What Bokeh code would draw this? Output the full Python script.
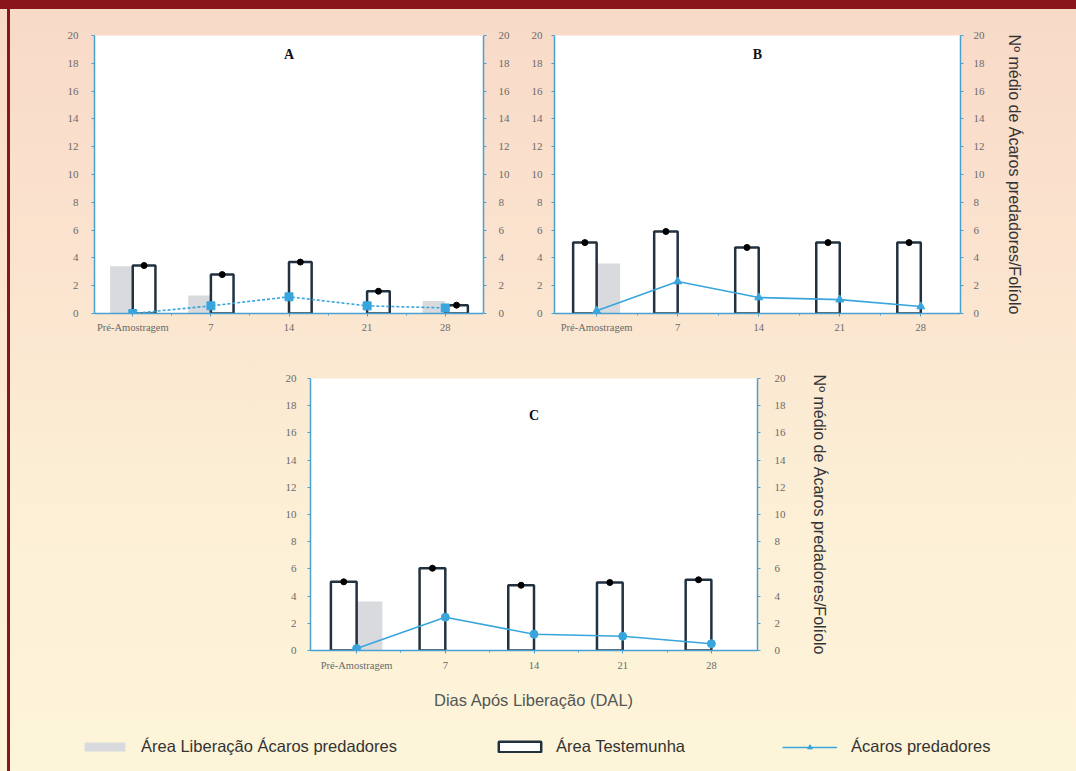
from bokeh.plotting import figure
from bokeh.models import (LinearAxis, Range1d, FixedTicker, Label, Legend,
                          LegendItem, Spacer)
from bokeh.layouts import column, row
from bokeh.embed import file_html
from bokeh.resources import INLINE

# ---------------- data ----------------
categories = ["Pré-Amostragem", "7", "14", "21", "28"]
y_ticks = [0, 2, 4, 6, 8, 10, 12, 14, 16, 18, 20]

a_liberacao = [3.4, 1.3, 0.0, 0.0, 0.9]
a_testemunha = [3.45, 2.8, 3.7, 1.6, 0.6]
a_predadores = [0.0, 0.55, 1.2, 0.55, 0.4]

b_liberacao = [3.6, 0.0, 0.0, 0.0, 0.0]
b_testemunha = [5.1, 5.9, 4.75, 5.1, 5.1]
b_predadores = [0.2, 2.3, 1.15, 1.0, 0.5]

c_liberacao = [3.6, 0.0, 0.0, 0.0, 0.0]
c_testemunha = [5.05, 6.05, 4.8, 5.0, 5.2]
c_predadores = [0.15, 2.45, 1.2, 1.05, 0.5]

label_lib = "Área Liberação Ácaros predadores"
label_test = "Área Testemunha"
label_pred = "Ácaros predadores"
x_title = "Dias Após Liberação (DAL)"
y2_title = "Nº médio de Ácaros predadores/Folíolo"

# ---------------- style ----------------
BLUE = "#38a6dd"
AXIS = "#4aa0cf"
DARK = "#22313f"
GRAY = "#d9dade"
TICK = "#6a6a6a"
SERIF = "Liberation Serif"
SANS = "Liberation Sans"
BAR_W = 0.29

idx = list(range(len(categories)))


def style_axis(ax, standoff, tick_out=3, size="11px"):
    ax.axis_line_color = AXIS
    ax.axis_line_width = 1.5
    ax.major_tick_line_color = AXIS
    ax.minor_tick_line_color = AXIS
    ax.major_tick_out = tick_out
    ax.major_tick_in = 0
    ax.minor_tick_out = 2
    ax.minor_tick_in = 0
    ax.major_label_standoff = standoff
    ax.major_label_text_font = SERIF
    ax.major_label_text_font_size = size
    ax.major_label_text_color = TICK


def panel(lib, test, pred, x_lo, x_hi, gray_left, letter, letter_y, marker,
          dash, width, height, borders, left_std, right_std, right_title,
          title_std=20, x_label=None):
    bl, br, bt, bb = borders
    p = figure(width=width, height=height,
               x_range=Range1d(x_lo, x_hi), y_range=Range1d(0, 20),
               output_backend="svg", toolbar_location=None,
               min_border_left=bl, min_border_right=br,
               min_border_top=bt, min_border_bottom=bb,
               background_fill_color="white", border_fill_color=None,
               outline_line_color=None)
    p.grid.visible = False

    sign = -1 if gray_left else 1
    gx = [i + sign * BAR_W / 2 for i in idx]
    tx = [i - sign * BAR_W / 2 for i in idx]
    p.vbar(x=gx, top=lib, width=BAR_W, fill_color=GRAY, line_color=None)
    p.vbar(x=tx, top=test, width=BAR_W, fill_color="white",
           line_color=DARK, line_width=2.5)
    p.scatter(x=tx, y=test, marker="circle", size=6, color="black")
    p.line(x=idx, y=pred, line_color=BLUE, line_width=1.6, line_dash=dash)
    p.scatter(x=idx, y=pred, marker=marker, size=8, color=BLUE)

    # x axis
    xa = p.xaxis[0]
    xa.ticker = FixedTicker(ticks=idx, minor_ticks=[i + 0.5 for i in idx[:-1]])
    xa.major_label_overrides = {i: c for i, c in zip(idx, categories)}
    style_axis(xa, 5, tick_out=3, size="10.5px")
    if x_label:
        xa.major_label_standoff = 6
        xa.axis_label = x_label
        xa.axis_label_text_font = SANS
        xa.axis_label_text_font_size = "16.5px"
        xa.axis_label_text_font_style = "normal"
        xa.axis_label_text_color = "#555"
        xa.axis_label_standoff = 17

    # left y axis
    ya = p.yaxis[0]
    ya.ticker = FixedTicker(ticks=y_ticks, minor_ticks=[])
    style_axis(ya, left_std)

    # right y axis
    ra = LinearAxis()
    ra.ticker = FixedTicker(ticks=y_ticks, minor_ticks=[])
    style_axis(ra, right_std)
    if right_title:
        ra.axis_label = right_title
        ra.axis_label_text_font = SANS
        ra.axis_label_text_font_size = "16px"
        ra.axis_label_text_font_style = "normal"
        ra.axis_label_text_color = "#333"
        ra.axis_label_standoff = title_std
    p.add_layout(ra, "right")

    p.add_layout(Label(x=(x_lo + x_hi) / 2, y=letter_y, text=letter,
                       text_font=SERIF, text_font_style="bold",
                       text_font_size="14px", text_color="#111",
                       text_align="center", text_baseline="middle"))
    return p


pA = panel(a_liberacao, a_testemunha, a_predadores, -0.49, 4.49, True, "A",
           18.6, "square", "3 2", 528, 345, (94, 45, 35, 32), 13, 12, None)
pB = panel(b_liberacao, b_testemunha, b_predadores, -0.52, 4.49, False, "B",
           18.6, "triangle", "solid", 548, 345, (25, 116, 35, 32), 9, 10,
           y2_title, title_std=18)
pC = panel(c_liberacao, c_testemunha, c_predadores, -0.52, 4.52, False, "C",
           17.3, "circle", "solid", 600, 373, (52, 101, 33, 68), 11, 14,
           y2_title, title_std=22, x_label=x_title)

# ---------------- legend strip ----------------
leg = figure(width=1076, height=53, x_range=Range1d(0, 1), y_range=Range1d(0, 1),
             output_backend="svg", toolbar_location=None, min_border=0,
             x_axis_type=None, y_axis_type=None, outline_line_color=None,
             background_fill_color=None, border_fill_color=None)
leg.grid.visible = False
# legend proxies (hidden renderers carrying panel C's data)
r_lib = leg.vbar(x=idx, top=c_liberacao, width=BAR_W, fill_color=GRAY,
                 line_color=None, visible=False)
r_test = leg.vbar(x=idx, top=c_testemunha, width=BAR_W, fill_color="white",
                  line_color=DARK, line_width=2.5, visible=False)
r_line = leg.line(x=idx, y=c_predadores, line_color=BLUE, line_width=1.4,
                  visible=False)
r_mark = leg.scatter(x=idx, y=c_predadores, marker="triangle", size=7,
                     color=BLUE, visible=False)

for label, rends, loc, gw, gh, std in [
        (label_lib, [r_lib], (79, 15), 51, 11, 11),
        (label_test, [r_test], (493, 15), 53, 13, 10),
        (label_pred, [r_line, r_mark], (782, 15), 55, 12, 14)]:
    lg = Legend(items=[LegendItem(label=label, renderers=rends)],
                location=loc, orientation="horizontal",
                glyph_width=gw, glyph_height=gh, label_standoff=std,
                label_text_font=SANS, label_text_font_size="16.5px",
                label_text_color="#333", background_fill_alpha=0,
                border_line_color=None, padding=0, margin=0)
    leg.add_layout(lg)

RED = "#8b1619"
layout = column(
    row(pA, pB),
    row(Spacer(width=258, height=373), pC),
    leg,
    styles={
        "background": (
            f"linear-gradient(to bottom, {RED} 9px, rgba(0,0,0,0) 9px), "
            f"linear-gradient(to right, rgba(0,0,0,0) 7px, {RED} 7px, "
            f"{RED} 10px, rgba(0,0,0,0) 10px), "
            "linear-gradient(to bottom, #f8d9c8 0%, #fbe4cf 35%, "
            "#fcefd6 65%, #fdf5d9 100%)"),
    },
)

open("out.html", "w").write(file_html(layout, INLINE))
